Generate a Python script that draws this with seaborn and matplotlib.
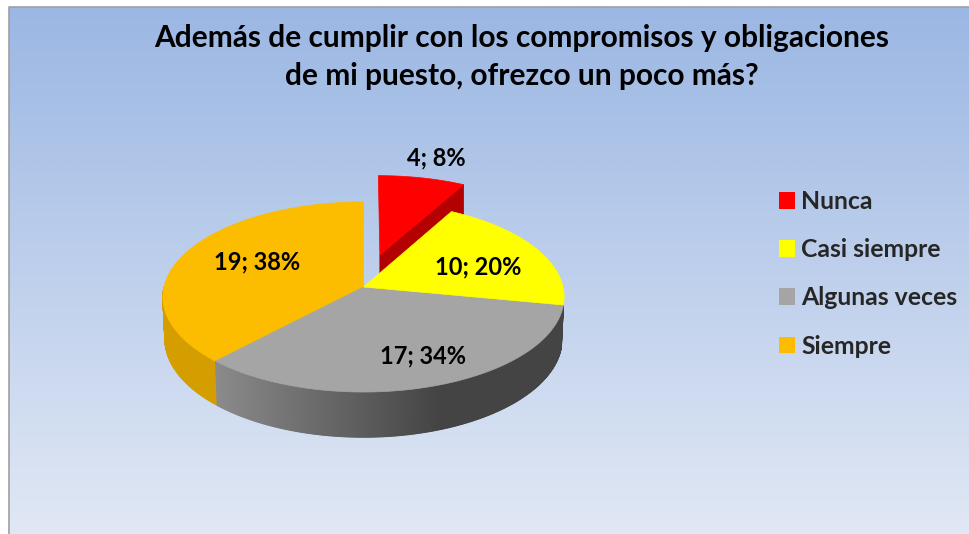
import matplotlib
matplotlib.use("Agg")

import matplotlib.pyplot as plt
import numpy as np
import seaborn as sns
from matplotlib.colors import to_rgb
from matplotlib.patches import Patch

title = "Además de cumplir con los compromisos y obligaciones\nde mi puesto, ofrezco un poco más?"
categories = ["Nunca", "Casi siempre", "Algunas veces", "Siempre"]
values = [4, 10, 17, 19]
percents = [8, 20, 34, 38]
colors = ["#FF0000", "#FFFF00", "#A5A5A5", "#FCBC00"]

# where the data labels sit, in pixels
label_pos = [(436, 158), (478, 267), (423, 356), (257, 262)]

# pie geometry in pixels, k is the perspective
cx, cy = 363.5, 287
rx, ry, k = 199.5, 94, 0.105
depth = 41.5
explode = [(0.085, 0.353), (0, 0), (0, 0), (0, 0)]

sns.set_theme(style="white")
plt.rcParams["font.family"] = ["Lato", "DejaVu Sans"]
palette = sns.color_palette(colors)


def project(theta, off=(0, 0), z=0.0, radius=1.0):
    u = off[0] + radius * np.sin(theta)
    v = off[1] + radius * np.cos(theta)
    w = 1 + k * v
    return np.column_stack([cx + rx * u / w, cy - ry * v / w + z * depth / w])


def wall_shade(x):
    return np.interp(x, [163, 215, 440, 564], [0.84, 0.84, 0.41, 0.41])


fig = plt.figure(figsize=(9.7, 5.34), dpi=100)
ax = fig.add_axes([0, 0, 1, 1])
ax.axis("off")

# background panel
grad = np.linspace(0, 1, 256)[:, None, None]
top_c = np.array(to_rgb("#9BB7E3"))
bot_c = np.array(to_rgb("#E1E8F5"))
ax.imshow(top_c + grad * (bot_c - top_c), extent=(9, 970, 534, 7), aspect="auto", zorder=0)
ax.plot([9, 9, 970], [534, 7, 7], color="#A0A0A0", lw=1.2, zorder=1)
ax.set_xlim(0, 970)
ax.set_ylim(534, 0)

edges = np.radians(np.concatenate([[0], np.cumsum(values)]) / sum(values) * 360)

# red slice goes first, everything else paints over its wall
order = [0, 3, 2, 1]
for i in order:
    start, end = edges[i], edges[i + 1]
    off = explode[i]
    base = np.array(palette[i])
    thetas = np.linspace(start, end, 400)

    # outer wall, only the part facing the viewer (yellow one is just hidden)
    front = thetas[np.cos(thetas) < 0] if i != 1 else thetas[:0]
    for t1, t2 in zip(front[:-1], front[1:]):
        a = project(np.array([t1, t2]), off)
        b = project(np.array([t2, t1]), off, z=1, radius=0.99)
        shade = wall_shade(a[:, 0].mean())
        ax.fill(*np.vstack([a, b]).T, color=base * shade, lw=0.8, zorder=2 + order.index(i))

    # cut face of the exploded slice
    if off != (0, 0):
        inner = project(np.array([end]), off, radius=0.0)
        outer = project(np.array([end]), off)
        outer_b = project(np.array([end]), off, z=1)
        inner_b = project(np.array([end]), off, z=1, radius=0.0)
        ax.fill(*np.vstack([inner, outer, outer_b, inner_b]).T, color=base * 0.7, lw=0.5, zorder=2)

    rim = project(thetas, off)
    centre = project(np.array([0.0]), off, radius=0.0)
    ax.fill(*np.vstack([centre, rim]).T, color=base, lw=0.5, zorder=3 + order.index(i))

for (x, y), v, p in zip(label_pos, values, percents):
    ax.text(x, y, f"{v}; {p}%", ha="center", va="center", fontsize=17,
            fontweight="bold", color="black", zorder=10)

ax.text(522, 57, title, ha="center", va="center", fontsize=21.5, fontweight="bold",
        color="black", linespacing=1.42, zorder=10)

handles = [Patch(facecolor=c, edgecolor="none", label=n) for c, n in zip(palette, categories)]
ax.legend(handles=handles, loc="upper left", bbox_to_anchor=(779, 190),
          bbox_transform=ax.transData, frameon=False, borderpad=0,
          handlelength=0.65, handleheight=0.65, handletextpad=0.25, labelspacing=1.02,
          borderaxespad=0, prop={"weight": "bold", "size": 17.8})

fig.savefig("out.png", dpi=100)
plt.close(fig)
